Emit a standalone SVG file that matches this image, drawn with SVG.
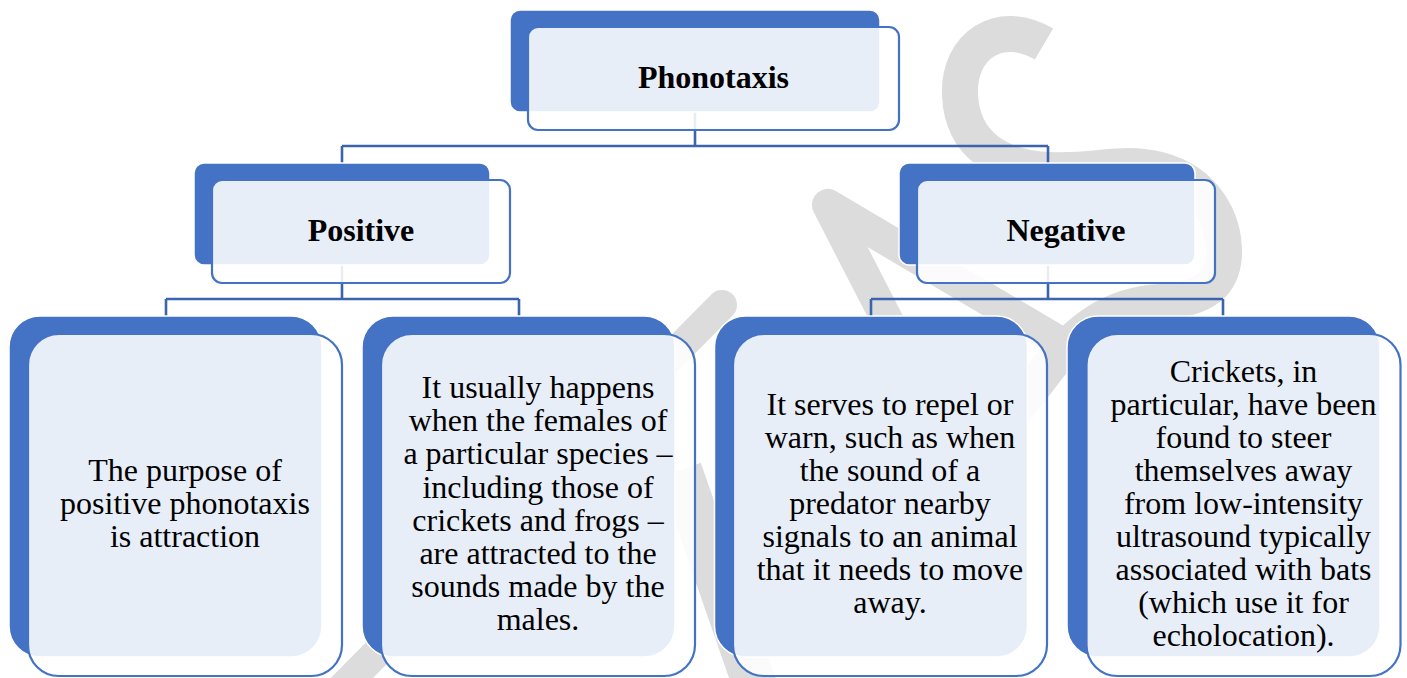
<svg xmlns="http://www.w3.org/2000/svg" width="1407" height="678" viewBox="0 0 1407 678">
<style>
.back{fill:#4472C4;stroke:#FFFFFF;stroke-width:1.5}
.front{fill:#FFFFFF;fill-opacity:0.88;stroke:#4472C4;stroke-width:2.2}
.wm{fill:none;stroke:#DCDCDC}
.conn{fill:none;stroke:#3A64AD;stroke-width:2.6}
.hd{font-family:"Liberation Serif","Times New Roman",serif;font-weight:bold;font-size:32px;fill:#000;text-anchor:middle}
.tx{font-family:"Liberation Serif","Times New Roman",serif;font-size:32px;fill:#000;text-anchor:middle}
</style>
<rect x="0" y="0" width="1407" height="678" fill="#FFFFFF"/>
<g id="watermark">
<path class="wm" stroke-width="36" d="M1044,44 C1000,18 958,45 960,95 C962,145 1000,168 1050,170 C1100,172 1120,160 1160,170 C1205,182 1225,220 1224,255 C1222,290 1195,300 1160,302 C1110,305 1080,330 1050,365 L1000,430"/>
<path class="wm" stroke-width="32" stroke-linecap="round" stroke-linejoin="round" d="M900,345 L828,205 L1110,372"/>
<path class="wm" stroke-width="30" stroke-linecap="round" d="M722,305 L330,700"/>
<path class="wm" stroke-width="44" d="M680,470 L760,700"/>
</g>
<g id="connectors">
<path class="conn" d="M695,112 V146 M342,146 H1048 M342,146 V164 M1048,146 V164"/>
<path class="conn" d="M342,265 V299 M166,299 H519 M166,299 V317 M519,299 V317"/>
<path class="conn" d="M1048,265 V299 M871,299 H1223 M871,299 V317 M1223,299 V317"/>
</g>
<g id="node-phonotaxis">
<rect class="back" x="510" y="10" width="370" height="102" rx="10"/>
<rect class="front" x="528" y="27" width="371" height="103" rx="10"/>
<text class="hd" x="713.5" y="88">Phonotaxis</text>
</g>
<g id="node-positive">
<rect class="back" x="194" y="163" width="296" height="102" rx="10"/>
<rect class="front" x="212" y="180" width="298" height="103" rx="10"/>
<text class="hd" x="361" y="241">Positive</text>
</g>
<g id="node-negative">
<rect class="back" x="899" y="163" width="296" height="102" rx="10"/>
<rect class="front" x="917" y="180" width="298" height="103" rx="10"/>
<text class="hd" x="1066" y="241">Negative</text>
</g>
<g id="node-leaf1">
<rect class="back" x="9" y="316" width="313" height="341" rx="31"/>
<rect class="front" x="28" y="334" width="314" height="342" rx="31"/>
<text class="tx" x="185"><tspan x="185" y="481">The purpose of</tspan><tspan x="185" y="514">positive phonotaxis</tspan><tspan x="185" y="547">is attraction</tspan></text>
</g>
<g id="node-leaf2">
<rect class="back" x="362" y="316" width="313" height="341" rx="31"/>
<rect class="front" x="381" y="334" width="314" height="342" rx="31"/>
<text class="tx"><tspan x="538" y="398.2">It usually happens</tspan><tspan x="538" y="431.3">when the females of</tspan><tspan x="538" y="464.4">a particular species –</tspan><tspan x="538" y="497.5">including those of</tspan><tspan x="538" y="530.6">crickets and frogs –</tspan><tspan x="538" y="563.7">are attracted to the</tspan><tspan x="538" y="596.8">sounds made by the</tspan><tspan x="538" y="629.9">males.</tspan></text>
</g>
<g id="node-leaf3">
<rect class="back" x="714.5" y="316" width="313" height="341" rx="31"/>
<rect class="front" x="733" y="334" width="314" height="342" rx="31"/>
<text class="tx"><tspan x="890" y="414.7">It serves to repel or</tspan><tspan x="890" y="447.8">warn, such as when</tspan><tspan x="890" y="480.9">the sound of a</tspan><tspan x="890" y="514">predator nearby</tspan><tspan x="890" y="547.1">signals to an animal</tspan><tspan x="890" y="580.2">that it needs to move</tspan><tspan x="890" y="613.3">away.</tspan></text>
</g>
<g id="node-leaf4">
<rect class="back" x="1067" y="316" width="313" height="341" rx="31"/>
<rect class="front" x="1086.5" y="334" width="314" height="342" rx="31"/>
<text class="tx"><tspan x="1243.5" y="381.6">Crickets, in</tspan><tspan x="1243.5" y="414.7">particular, have been</tspan><tspan x="1243.5" y="447.8">found to steer</tspan><tspan x="1243.5" y="480.9">themselves away</tspan><tspan x="1243.5" y="514">from low-intensity</tspan><tspan x="1243.5" y="547.1">ultrasound typically</tspan><tspan x="1243.5" y="580.2">associated with bats</tspan><tspan x="1243.5" y="613.3">(which use it for</tspan><tspan x="1243.5" y="646.4">echolocation).</tspan></text>
</g>
</svg>
